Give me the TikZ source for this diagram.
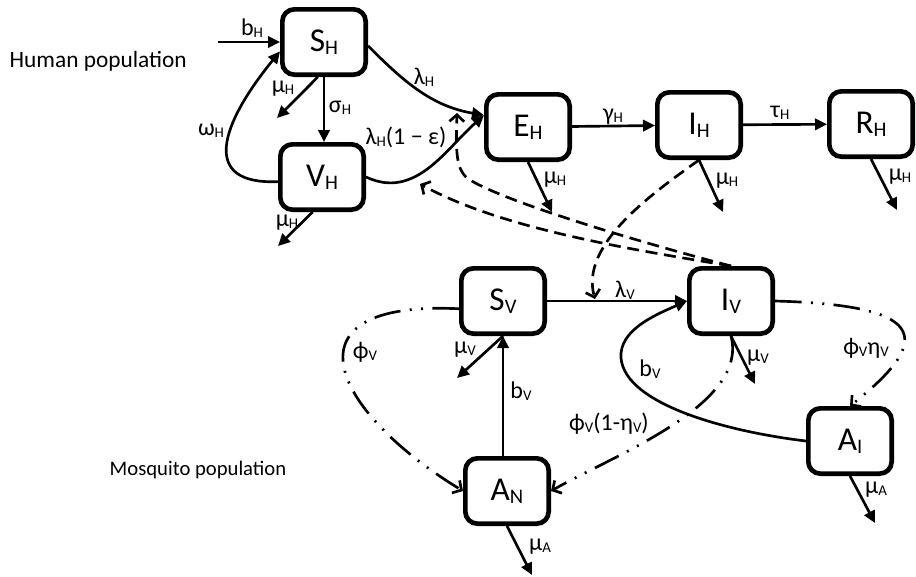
\documentclass[tikz,border=0pt]{standalone}
\usepackage{fontspec}
\setmainfont{Carlito}
\usepackage{graphicx}
\usetikzlibrary{arrows.meta}
\newcommand{\lo}[1]{\raisebox{-0.08em}{\scalebox{0.62}{#1}}}

\begin{document}
\begin{tikzpicture}[x=0.75pt,y=0.75pt,
 comp/.style={draw,line width=3.5pt,rounded corners=9pt,minimum width=62.5pt,minimum height=49pt,inner sep=0pt,font=\fontsize{25}{27}\selectfont},
 lab/.style={inner sep=0pt,font=\fontsize{18}{20}\selectfont},
 flow/.style={line width=2pt,-{Triangle[length=9pt,width=8.5pt]}},
 infect/.style={line width=2pt,dash pattern=on 9pt off 5pt,-{Straight Barb[length=5pt,width=11pt]}},
 hatch/.style={line width=2pt,dash pattern=on 20pt off 7pt on 1.5pt off 7pt on 1.5pt off 7pt,-{Straight Barb[length=5pt,width=11pt]}}]
 \path[use as bounding box,fill=white] (0,0) rectangle (916,-576);
 % compartments
 \node [comp] (SH) at (324,-42) {S\lo{H}};
 \node [comp] (VH) at (322,-177) {V\lo{H}};
 \node [comp] (EH) at (528,-127) {E\lo{H}};
 \node [comp] (IH) at (699,-125) {I\lo{H}};
 \node [comp] (RH) at (871,-124) {R\lo{H}};
 \node [comp] (SV) at (503,-301) {S\lo{V}};
 \node [comp] (IV) at (731,-301) {I\lo{V}};
 \node [comp] (AN) at (507,-491) {A\lo{N}};
 \node [comp] (AI) at (850,-441) {A\lo{I}};
 \node [anchor=base west,font=\fontsize{17.5}{20}\selectfont] (hum) at (5,-67) {Human population};
 \node [anchor=base west,font=\fontsize{15.5}{18}\selectfont] (mos) at (105,-475) {Mosquito population};
 % free ends
 \coordinate (inH) at (218,-42);
 \coordinate (outSH) at (277,-118);
 \coordinate (outVH) at (278,-246);
 \coordinate (outEH) at (552,-212);
 \coordinate (outIH) at (723,-212);
 \coordinate (outRH) at (897,-210);
 \coordinate (outSV) at (457,-378);
 \coordinate (outIV) at (755,-384);
 \coordinate (outAN) at (532,-575);
 \coordinate (outAI) at (875,-523);
 \coordinate (tipL) at (595,-299);
 \coordinate (tipE) at (457,-113);
 \coordinate (tipV) at (420,-184);
 % human flows
 \draw [flow] (inH) -- (SH);
 \draw [flow] (SH.south) -- (SH.south |- VH.north);
 \draw [flow] (SH.-100) -- (outSH);
 \draw [flow] (VH.186) .. controls (200,-185) and (220,-125) .. (SH.192);
 \draw [flow] (SH.-5) to[out=-45,in=170] (EH.165);
 \draw [flow] (VH.east) .. controls (415,-200) and (445,-150) .. (EH.165);
 \draw [flow] (VH.-105) -- (outVH);
 \draw [flow] (EH) -- (IH);
 \draw [flow] (IH) -- (RH);
 \draw [flow] (EH.south) -- (outEH);
 \draw [flow] (IH.south) -- (outIH);
 \draw [flow] (RH.south) -- (outRH);
 % mosquito flows
 \draw [flow] (SV) -- (IV);
 \draw [flow] (AN.north -| SV.south) -- (SV.south);
 \draw [flow] (SV.south) -- (outSV);
 \draw [flow] (IV.south) -- (outIV);
 \draw [flow] (AN.south) -- (outAN);
 \draw [flow] (AI.south) -- (outAI);
 \draw [flow] (AI.west) .. controls (730,-432) and (625,-405) .. (621,-358) .. controls (619,-330) and (655,-315) .. (IV.west);
 % infection
 \draw [infect] (IH.south) .. controls (650,-195) and (580,-245) .. (tipL);
 \draw [infect] (IV.north) .. controls (650,-245) and (510,-204) .. (470,-180) .. controls (455,-171) and (456,-150) .. (tipE);
 \draw [infect] (IV.north) .. controls (636,-250) and (504,-230) .. (tipV);
 % aquatic stages
 \draw [hatch] (SV.190) .. controls (280,-300) and (330,-410) .. (AN.west);
 \draw [hatch] (IV.south) .. controls (749,-405) and (614,-455) .. (AN.east);
 \draw [hatch] (IV.east) .. controls (920,-305) and (940,-335) .. (AI.north);
 % rates
 \node [lab] (bH) at (252,-28) {b\lo{H}};
 \node [lab] (sH) at (340,-108) {σ\lo{H}};
 \node [lab] (mSH) at (283,-89) {μ\lo{H}};
 \node [lab] (wH) at (211,-131) {ω\lo{H}};
 \node [lab] (lH) at (424,-77) {λ\lo{H}};
 \node [lab] (lHe) at (406,-137) {λ\lo{H}(1 − ε)};
 \node [lab] (mVH) at (287,-223) {μ\lo{H}};
 \node [lab] (mEH) at (555,-180) {μ\lo{H}};
 \node [lab] (gH) at (613,-117) {γ\lo{H}};
 \node [lab] (mIH) at (727,-181) {μ\lo{H}};
 \node [lab] (tH) at (780,-113) {τ\lo{H}};
 \node [lab] (mRH) at (900,-177) {μ\lo{H}};
 \node [lab] (lV) at (625,-290) {λ\lo{V}};
 \node [lab] (pV) at (365,-352) {ϕ\lo{V}};
 \node [lab] (mSV) at (465,-350) {μ\lo{V}};
 \node [lab] (bV) at (521,-391) {b\lo{V}};
 \node [lab] (mIV) at (758,-358) {μ\lo{V}};
 \node [lab] (bVI) at (650,-369) {b\lo{V}};
 \node [lab] (pVe) at (866,-348) {ϕ\lo{V}η\lo{V}};
 \node [lab] (pVn) at (609,-424) {ϕ\lo{V}(1-η\lo{V})};
 \node [lab] (mAN) at (540,-547) {μ\lo{A}};
 \node [lab] (mAI) at (876,-490) {μ\lo{A}};
\end{tikzpicture}
\end{document}
